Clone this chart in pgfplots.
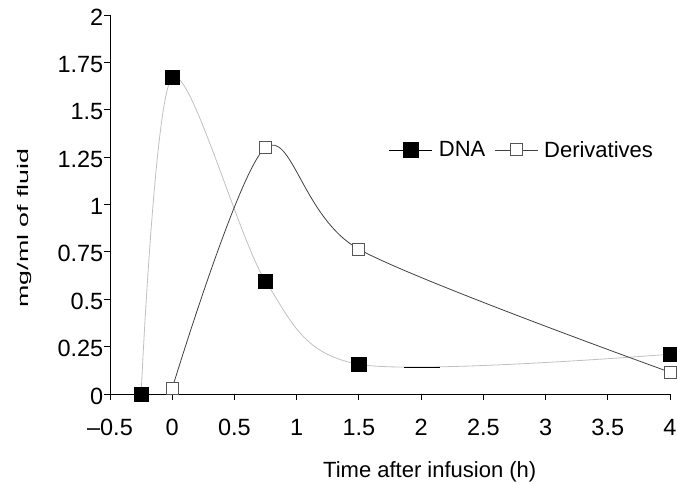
\documentclass[border=0pt]{standalone}
\usepackage{pgfplots}
\pgfplotsset{compat=1.18}
\usepackage{fontspec}
\setmainfont{Liberation Sans}
\usepackage{graphicx}
\definecolor{dnagray}{HTML}{C0C0C0}
\definecolor{dergray}{HTML}{404040}
\definecolor{markgray}{HTML}{555555}
\begin{document}
\begin{tikzpicture}
\begin{axis}[
  scale only axis, width=560bp, height=379bp,
  xmin=-0.5, xmax=4, ymin=0, ymax=2,
  /pgf/number format/assume math mode=true,
  axis lines=left,
  axis line style={-, line width=0.9bp, black},
  clip=false,
  xtick={-0.5,0,0.5,1,1.5,2,2.5,3,3.5,4},
  xticklabels={\textendash0.5,0,0.5,1,1.5,2,2.5,3,3.5,4},
  ytick={0,0.25,0.5,0.75,1,1.25,1.5,1.75,2},
  yticklabels={0,0.25,0.5,0.75,1,1.25,1.5,1.75,2},
  tick align=outside,
  major tick length=6bp,
  tick style={black, line width=0.9bp},
  ticklabel style={font=\fontsize{23.5bp}{27bp}\selectfont, inner sep=0pt},
  xticklabel style={anchor=north, yshift=-19bp},
  yticklabel style={anchor=east, xshift=-0.5bp, yshift=-2bp},
  xlabel={Time after infusion (h)},
  xlabel style={at={(axis description cs:0.571,-0.219)}, anchor=base, font=\fontsize{22bp}{26bp}\selectfont, inner sep=0pt},
  ylabel={\scalebox{1.75}[1]{mg/ml of fluid}},
  ylabel style={at={(axis description cs:-0.152,0.438)}, anchor=center, font=\fontsize{15.3bp}{18bp}\selectfont, inner sep=0pt},
  legend columns=2,
  legend style={draw=none, fill=none, at={(axis description cs:0.498,0.644)}, anchor=west, inner sep=0pt,
    font=\fontsize{22bp}{26bp}\selectfont,
    nodes={inner sep=0pt},
    /tikz/every odd column/.append style={column sep=6bp},
    /tikz/every even column/.append style={column sep=9bp}},
  legend image code/.code={
    \draw[#1, mark repeat=2, mark phase=2] plot coordinates {(0bp,0bp) (21.5bp,0bp) (43bp,0bp)};
  },
]
\coordinate (bbll) at (rel axis cs:-0.1964,-0.2348);
\coordinate (bbur) at (rel axis cs:1.0125,1.0396);

\addplot[dnagray, line width=0.8bp, smooth, mark=square*, mark size=7.1bp,
  mark options={fill=black, draw=black, line width=0.8bp}, forget plot]
  coordinates {(-0.25,0) (0,1.67) (0.75,0.595) (1.5,0.157) (4,0.21)};
\addplot[dergray, line width=0.8bp, smooth, mark=square*, mark size=6bp,
  mark options={fill=white, draw=markgray, line width=1bp}, forget plot]
  coordinates {(0,0.03) (0.75,1.3) (1.5,0.764) (4,0.115)};
\addplot[black, line width=1bp, forget plot] coordinates {(1.863,0.142) (2.152,0.142)};

\addlegendimage{black, line width=0.8bp, mark=square*, mark size=7.1bp, mark options={fill=black, draw=black, line width=0.8bp}}
\addlegendentry{DNA}
\addlegendimage{dergray, line width=0.8bp, mark=square*, mark size=6bp, mark options={fill=white, draw=markgray, line width=1bp}}
\addlegendentry{Derivatives}
\end{axis}
\pgfresetboundingbox
\path (bbll) rectangle (bbur);
\end{tikzpicture}
\end{document}
